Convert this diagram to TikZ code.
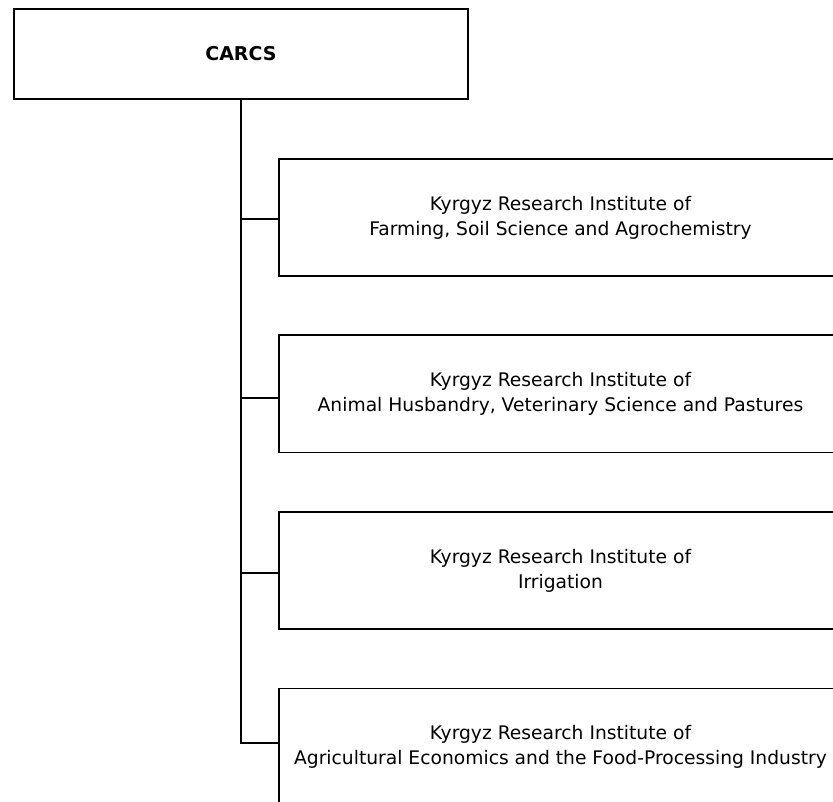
\documentclass[tikz,border=0pt]{standalone}
\usepackage{fontspec}
\setmainfont{DejaVu Sans}
\tikzset{
  ln/.style={line width=1.9pt},
  inst/.style={draw,ln,minimum width=563pt,minimum height=117pt,inner sep=0pt,
    anchor=north west,align=center,font=\fontsize{18.7}{25}\selectfont},
  topbox/.style={draw,ln,minimum width=454pt,minimum height=90pt,inner sep=0pt,
    anchor=north west,font=\bfseries\fontsize{19}{22}\selectfont},
}
\begin{document}
\begin{tikzpicture}[x=1pt,y=-1pt]
\useasboundingbox (0,0) rectangle (833,802);
\clip (0,0) rectangle (833,802);
\node[topbox] (carcs) at (13,8) {CARCS};
\node[inst] (i1) at (278,158) {Kyrgyz Research Institute of\\Farming, Soil Science and Agrochemistry};
\node[inst] (i2) at (278,334.5) {Kyrgyz Research Institute of\\Animal Husbandry, Veterinary Science and Pastures};
\node[inst] (i3) at (278,511) {Kyrgyz Research Institute of\\Irrigation};
\node[inst] (i4) at (278,687.5) {Kyrgyz Research Institute of\\Agricultural Economics and the Food-Processing Industry};
\coordinate (c1) at ([yshift=-1.5pt]i1.west);
\coordinate (c2) at ([yshift=-4pt]i2.west);
\coordinate (c3) at ([yshift=-2.5pt]i3.west);
\coordinate (c4) at ([yshift=4pt]i4.west);
\draw[ln] (carcs.south) -- (carcs.south |- c4) -- (c4);
\draw[ln] (carcs.south |- c1) -- (c1);
\draw[ln] (carcs.south |- c2) -- (c2);
\draw[ln] (carcs.south |- c3) -- (c3);
\end{tikzpicture}
\end{document}
